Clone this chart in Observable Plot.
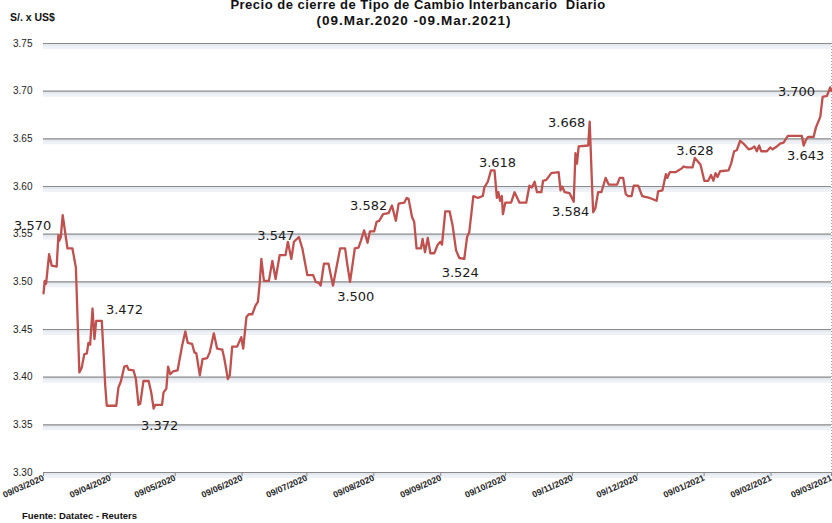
<!DOCTYPE html>
<html><head><meta charset="utf-8">
<script src="https://cdn.jsdelivr.net/npm/d3@7"></script>
<script src="https://cdn.jsdelivr.net/npm/@observablehq/plot@0.6"></script>
<style>
body{margin:0;background:#fff;}
#wrap{position:relative;width:832px;height:523px;overflow:hidden;font-family:"Liberation Sans",Arial,sans-serif;color:#111;}
.t{position:absolute;left:0;width:832px;text-align:center;font-weight:bold;white-space:nowrap;}
#t1{top:-3px;font-size:13px;letter-spacing:0.5px;line-height:15px;left:2px;}
#t2{top:13px;font-size:13.5px;letter-spacing:1px;line-height:16px;left:-2px;}
#unit{position:absolute;left:10px;top:11px;font-size:10.5px;font-weight:bold;}
#src{position:absolute;left:22px;top:510px;font-size:9.5px;font-weight:bold;}
#chart{position:absolute;left:0;top:0;}
</style></head><body>
<div id="wrap">
<div id="chart"></div>
<div class="t" id="t1">Precio de cierre de Tipo de Cambio Interbancario&nbsp; Diario</div>
<div class="t" id="t2">(09.Mar.2020 -09.Mar.2021)</div>
<div id="unit">S/. x US$</div>
<div id="src">Fuente: Datatec - Reuters</div>
</div>
<script>
// days since 09/03/2020
const startDay = "09/03/2020";
const endDay = "09/03/2021";
const dayOffset = [
0,0.6,1.2,2.6,3.8,6.1,6.9,7.3,8.0,8.9,11.1,13.4,15.0,16.6,17.7,18.9,20.1,20.8,21.6,22.7,23.6,24.4,27.0,28.6,29.3,33.7,34.7,35.9,37.4,38.6,39.4,41.7,42.8,44.0,44.8,46.3,48.7,49.9,51.0,51.8,54.9,55.6,56.9,57.7,58.7,60.0,62.1,
64.2,65.7,66.8,68.8,69.9,70.8,72.4,73.7,75.8,77.0,78.9,80.4,82.8,83.8,85.4,86.3,87.4,89.7,91.6,92.5,94.0,95.1,96.7,98.2,99.3,100.2,100.9,102.1,104.4,106.0,107.5,109.4,112.1,113.2,114.8,116.0,118.3,119.9,122.2,124.9,
126.1,127.5,128.4,129.9,132.0,134.1,135.7,137.4,139.7,140.8,142.0,144.2,145.9,147.0,148.5,150.1,151.2,153.2,154.3,155.5,157.3,159.8,161.4,163.2,164.5,167.1,168.2,169.1,170.7,171.7,172.8,174.8,175.6,176.7,178.0,179.2,181.0,182.6,183.8,184.6,
186.1,188.1,189.5,191.1,192.6,194.9,196.2,197.2,199.1,201.2,203.5,204.2,205.8,207.3,208.9,210.0,210.7,211.5,212.3,212.8,213.9,216.6,218.2,220.5,223.6,225.1,226.2,227.5,228.6,230.6,231.4,232.9,235.2,238.6,239.5,240.3,241.4,243.7,245.6,
246.4,247.1,247.9,252.3,253.0,254.1,254.6,255.6,256.9,258.4,260.4,261.8,265.7,266.9,268.5,269.7,270.8,272.4,273.4,275.5,277.3,280.8,284.0,284.7,286.7,288.3,288.9,290.1,292.8,295.6,296.6,297.9,300.6,301.7,304.3,306.1,307.9,309.2,310.3,
311.3,312.2,313.4,317.3,318.5,319.9,321.1,322.7,324.2,326.6,328.1,329.3,330.4,331.5,332.4,335.1,336.6,337.7,339.7,341.2,342.8,344.8,351.3,352.1,353.2,354.1,356.7,357.8,359.8,360.9,362.9,364.4,365.0
];
const rate = [
3.488,3.501,3.498,3.529,3.517,3.516,3.549,3.543,3.547,3.570,3.535,3.535,3.515,3.405,3.410,3.424,3.425,3.436,3.434,3.472,3.440,3.459,3.459,3.391,3.370,3.370,3.389,3.396,3.411,3.412,3.408,3.407,3.398,3.371,3.372,3.396,3.396,3.384,3.367,3.371,3.371,3.384,3.388,3.411,3.403,3.406,3.407,
3.433,3.448,3.436,3.435,3.426,3.425,3.402,3.419,3.420,3.426,3.446,3.430,3.429,3.419,3.398,3.402,3.432,3.432,3.442,3.430,3.463,3.466,3.466,3.475,3.479,3.500,3.524,3.501,3.501,3.522,3.503,3.528,3.528,3.542,3.524,3.542,3.547,3.535,3.507,3.507,
3.500,3.499,3.496,3.519,3.519,3.496,3.515,3.535,3.535,3.517,3.500,3.535,3.536,3.543,3.554,3.541,3.553,3.553,3.563,3.564,3.571,3.572,3.580,3.564,3.582,3.583,3.588,3.587,3.568,3.563,3.535,3.535,3.545,3.531,3.546,3.530,3.530,3.539,3.542,3.539,
3.574,3.574,3.559,3.533,3.525,3.524,3.547,3.552,3.590,3.588,3.590,3.599,3.605,3.617,3.617,3.588,3.594,3.585,3.590,3.571,3.583,3.583,3.594,3.583,3.583,3.601,3.599,3.605,3.594,3.594,3.606,3.607,3.614,3.615,3.596,3.600,3.594,3.593,3.584,
3.635,3.624,3.642,3.643,3.668,3.600,3.573,3.577,3.594,3.594,3.609,3.602,3.602,3.609,3.609,3.592,3.590,3.590,3.601,3.601,3.590,3.588,3.585,3.595,3.596,3.613,3.609,3.615,3.615,3.619,3.621,3.620,3.620,3.630,3.623,3.606,3.606,3.612,3.606,
3.614,3.610,3.616,3.617,3.624,3.637,3.638,3.648,3.645,3.639,3.640,3.642,3.637,3.643,3.637,3.637,3.641,3.639,3.642,3.645,3.646,3.653,3.653,3.643,3.649,3.652,3.652,3.662,3.673,3.694,3.695,3.704,3.700
];
const yTicks = [3.30,3.35,3.40,3.45,3.50,3.55,3.60,3.65,3.70,3.75];
const xTickLabels = ["09/03/2020","09/04/2020","09/05/2020","09/06/2020","09/07/2020","09/08/2020","09/09/2020","09/10/2020","09/11/2020","09/12/2020","09/01/2021","09/02/2021","09/03/2021"];
// annotated points: day offset, value shown
const labelDay = [8.9,22.7,51.0,118.3,126.1,194.9,164.5,208.9,253.0,245.6,301.7,365.0,352.1];
const labelValue = [3.570,3.472,3.372,3.547,3.500,3.524,3.582,3.618,3.668,3.584,3.628,3.700,3.643];
// text placement offsets (px) relative to annotated point
const labelOffset = [[-30,11],[32,1],[6,22],[-23,-1],[40,15],[-4,14],[-30,2],[3,-7],[-23,1],[-3,10],[0,-9],[-35,1],[2,10]];

const parse = d3.utcParse("%d/%m/%Y");
const fmt = d3.utcFormat("%d/%m/%Y");
const t0 = parse(startDay), t1 = parse(endDay);
const toDate = d => new Date(t0.getTime() + d * 86400000);
const series = dayOffset.map((d, i) => ({date: toDate(d), value: rate[i]}));
const labels = labelDay.map((d, i) => ({date: toDate(d), value: labelValue[i], text: labelValue[i].toFixed(3)}));
const xTicks = xTickLabels.map(parse);

const chart = Plot.plot({
  width: 832, height: 523,
  marginTop: 43, marginBottom: 51, marginLeft: 43, marginRight: 1,
  style: {fontFamily: "'Liberation Sans', Arial, sans-serif", background: "transparent", color: "#222", overflow: "visible"},
  x: {type: "utc", domain: [t0, t1]},
  y: {domain: [3.30, 3.75]},
  marks: [
    Plot.ruleY(yTicks, {stroke: "#eef1f6", strokeWidth: 6, dy: 2.5}),
    Plot.ruleY(yTicks, {stroke: "#e4e8ef", strokeWidth: 2, dy: 1.5}),
    Plot.ruleY(yTicks, {stroke: "#8a8a8a", strokeWidth: 1.2}),
    Plot.ruleX([t1], {stroke: "#a0a0a0", strokeDasharray: "1,2"}),
    Plot.line(series, {x: "date", y: "value", stroke: "#c0504d", strokeWidth: 2.3, strokeLinejoin: "round"}),
    ...labels.map((l, i) => Plot.text([l], {x: "date", y: "value", text: "text", dx: labelOffset[i][0], dy: labelOffset[i][1], fontSize: 13, fontFamily: "'DejaVu Sans', sans-serif", fill: "#1a1a1a"})),
    Plot.axisX(xTicks, {tickFormat: fmt, tickRotate: -24, tickSize: 4, tickPadding: 1, fontSize: 8.8, fontWeight: "bold", stroke: "#888", fill: "#222", label: null}),
    Plot.axisY(yTicks, {tickFormat: ".2f", tickSize: 0, tickPadding: 11, fontSize: 10, fill: "#222", label: null})
  ]
});
document.getElementById("chart").appendChild(chart);
</script>
</body></html>
